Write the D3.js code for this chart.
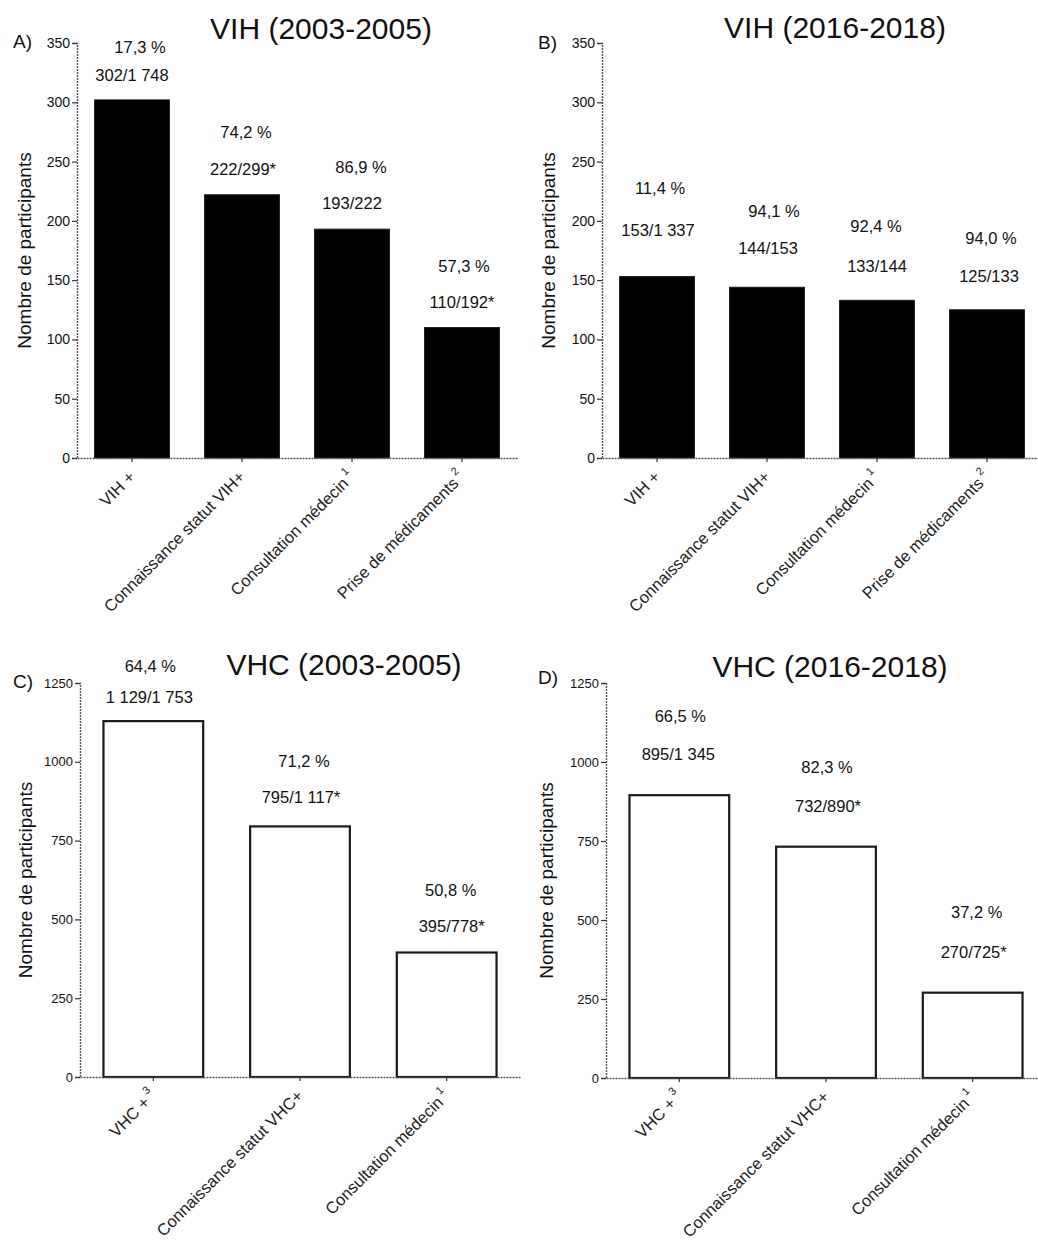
<!DOCTYPE html>
<html>
<head>
<meta charset="utf-8">
<script src="https://cdn.jsdelivr.net/npm/d3@7"></script>
<style>
  html, body { margin: 0; padding: 0; background: #fff; }
  svg { display: block; font-family: "Liberation Sans", Arial, sans-serif; }
</style>
</head>
<body>
<svg id="chart" width="1038" height="1241"></svg>
<script>
// ---------- DATA ----------
const hivCategories = ["VIH +", "Connaissance statut VIH+", "Consultation médecin", "Prise de médicaments"];
const hivSuperscripts = ["", "", "1", "2"];
const hcvCategories = ["VHC +", "Connaissance statut VHC+", "Consultation médecin"];
const hcvSuperscripts = ["3", "", "1"];

const hiv2003Values = [302, 222, 193, 110];
const hiv2003Percent = ["17,3 %", "74,2 %", "86,9 %", "57,3 %"];
const hiv2003Ratio = ["302/1 748", "222/299*", "193/222", "110/192*"];

const hiv2016Values = [153, 144, 133, 125];
const hiv2016Percent = ["11,4 %", "94,1 %", "92,4 %", "94,0 %"];
const hiv2016Ratio = ["153/1 337", "144/153", "133/144", "125/133"];

const hcv2003Values = [1129, 795, 395];
const hcv2003Percent = ["64,4 %", "71,2 %", "50,8 %"];
const hcv2003Ratio = ["1 129/1 753", "795/1 117*", "395/778*"];

const hcv2016Values = [895, 732, 270];
const hcv2016Percent = ["66,5 %", "82,3 %", "37,2 %"];
const hcv2016Ratio = ["895/1 345", "732/890*", "270/725*"];

const hivTicks = [0, 50, 100, 150, 200, 250, 300, 350];
const hcvTicks = [0, 250, 500, 750, 1000, 1250];

const yAxisTitle = "Nombre de participants";

// ---------- LAYOUT (pixel placement, kept apart from data) ----------
const panels = [
  { letter: "A)", title: "VIH (2003-2005)", cats: hivCategories, sups: hivSuperscripts,
    values: hiv2003Values, pct: hiv2003Percent, ratio: hiv2003Ratio, ticks: hivTicks, max: 350,
    xr: [77, 517], yr: [458, 43], fill: "#000",
    titleX: 321, titleY: 39, letterX: 13, letterY: 48, ylabX: 31,
    countGap: [19, 20, 20, 20], pctGap: [28, 37, 36, 36], pctDx: [8, 4, 9, 2], countDx: [0, 1, 0, 0] },
  { letter: "B)", title: "VIH (2016-2018)", cats: hivCategories, sups: hivSuperscripts,
    values: hiv2016Values, pct: hiv2016Percent, ratio: hiv2016Ratio, ticks: hivTicks, max: 350,
    xr: [602, 1042], yr: [458, 43], fill: "#000",
    titleX: 835, titleY: 38, letterX: 538, letterY: 49, ylabX: 555,
    countGap: [41, 33, 28, 28], pctGap: [42, 37, 40, 38], pctDx: [3, 7, -1, 4], countDx: [1, 1, 0, 2] },
  { letter: "C)", title: "VHC (2003-2005)", cats: hcvCategories, sups: hcvSuperscripts,
    values: hcv2003Values, pct: hcv2003Percent, ratio: hcv2003Ratio, ticks: hcvTicks, max: 1250,
    xr: [80, 520], yr: [1077, 683], fill: "#fff",
    titleX: 344, titleY: 675, letterX: 13, letterY: 688, ylabX: 32,
    countGap: [18, 23, 20], pctGap: [31, 36, 36], pctDx: [-3, 4, 4], countDx: [-4, 1, 5] },
  { letter: "D)", title: "VHC (2016-2018)", cats: hcvCategories, sups: hcvSuperscripts,
    values: hcv2016Values, pct: hcv2016Percent, ratio: hcv2016Ratio, ticks: hcvTicks, max: 1250,
    xr: [606, 1046], yr: [1078, 683], fill: "#fff",
    titleX: 830, titleY: 677, letterX: 538, letterY: 684, ylabX: 553,
    countGap: [35, 35, 35], pctGap: [38, 39, 40], pctDx: [1, 1, 4], countDx: [-1, 2, 1] }
];

const svg = d3.select("#chart");

panels.forEach(p => {
  const g = svg.append("g");
  const x = d3.scaleBand().domain(p.cats).range(p.xr).paddingInner(0.32).paddingOuter(0.16);
  const y = d3.scaleLinear().domain([0, p.max]).range(p.yr);

  // Bars
  g.selectAll("rect.bar").data(p.values).join("rect")
    .attr("class", "bar")
    .attr("x", (d, i) => x(p.cats[i]))
    .attr("width", x.bandwidth())
    .attr("y", d => y(d))
    .attr("height", d => y(0) - y(d))
    .attr("fill", p.fill)
    .attr("stroke", "#1a1a1a")
    .attr("stroke-width", p.fill === "#fff" ? 2.2 : 1);

  // Y axis
  const yAxis = d3.axisLeft(y).tickValues(p.ticks).tickSize(5).tickPadding(2).tickFormat(d3.format("d"));
  const ya = g.append("g").attr("transform", `translate(${p.xr[0]},0)`).call(yAxis);
  ya.select(".domain").attr("stroke", "#555").attr("stroke-width", 1.4).attr("stroke-dasharray", "2 1");
  ya.selectAll(".tick line").attr("stroke", "#333").attr("stroke-width", 1.2);
  ya.selectAll(".tick text").attr("font-family", "Liberation Sans, Arial, sans-serif")
    .attr("font-size", p.max > 500 ? 13 : 14).attr("fill", "#111");

  // X axis
  const xAxis = d3.axisBottom(x).tickSize(4).tickSizeOuter(0).tickFormat("");
  const xa = g.append("g").attr("transform", `translate(0,${y(0)})`).call(xAxis);
  xa.select(".domain").attr("stroke", "#555").attr("stroke-width", 1.4).attr("stroke-dasharray", "2 1");
  xa.selectAll(".tick line").attr("stroke", "#333").attr("stroke-width", 1.2);
  xa.selectAll(".tick").each(function (d, i) {
    const t = d3.select(this).append("text")
      .attr("transform", "translate(4,20) rotate(-45)")
      .attr("text-anchor", "end")
      .attr("font-size", 16.5)
      .attr("fill", "#222");
    t.append("tspan").text(d);
    if (p.sups[i]) {
      t.append("tspan").text(" " + p.sups[i]).attr("font-size", 11).attr("dy", -9);
    }
  });

  // Value labels
  p.values.forEach((v, i) => {
    const cx = x(p.cats[i]) + x.bandwidth() / 2;
    const cy = y(v) - p.countGap[i];
    g.append("text").attr("x", cx + p.countDx[i]).attr("y", cy)
      .attr("text-anchor", "middle").attr("font-size", 16.5).attr("fill", "#111").text(p.ratio[i]);
    g.append("text").attr("x", cx + p.pctDx[i]).attr("y", cy - p.pctGap[i])
      .attr("text-anchor", "middle").attr("font-size", 16.5).attr("fill", "#111").text(p.pct[i]);
  });

  // Title
  g.append("text").attr("x", p.titleX).attr("y", p.titleY).attr("text-anchor", "middle")
    .attr("font-size", 30).attr("fill", "#111").text(p.title);
  // Panel letter
  g.append("text").attr("x", p.letterX).attr("y", p.letterY)
    .attr("font-size", 19).attr("fill", "#111").text(p.letter);
  // Y axis title
  const ym = (p.yr[0] + p.yr[1]) / 2;
  g.append("text").attr("transform", `translate(${p.ylabX},${ym}) rotate(-90)`)
    .attr("text-anchor", "middle").attr("font-size", 19).attr("fill", "#111").text(yAxisTitle);
});
</script>
</body>
</html>
